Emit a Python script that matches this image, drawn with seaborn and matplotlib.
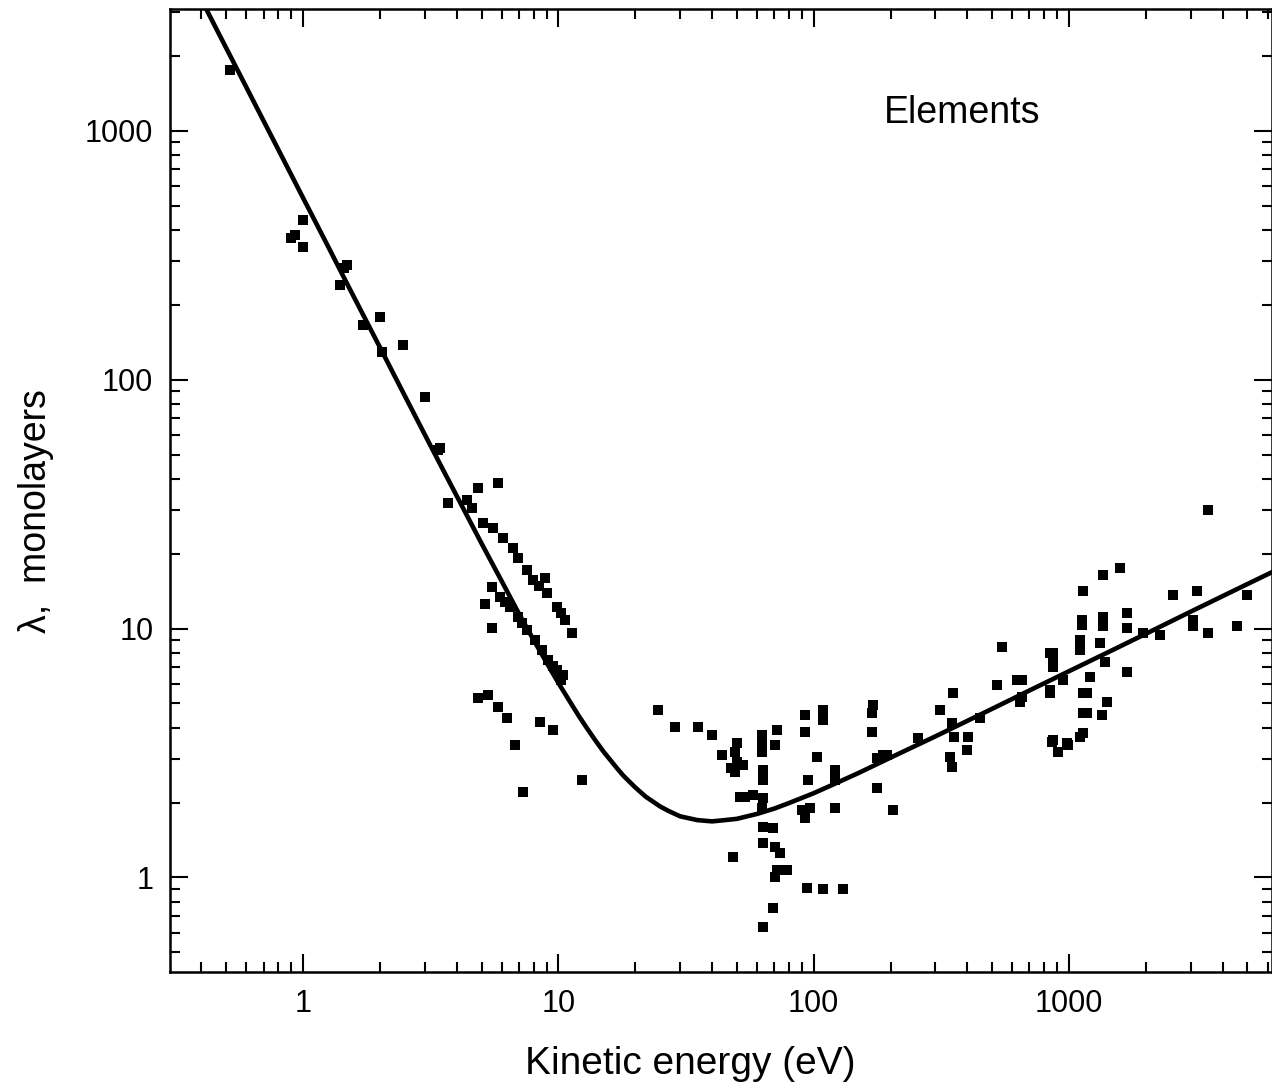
import numpy as np
import pandas as pd
import seaborn as sns
import matplotlib as mpl
mpl.use("Agg")
import matplotlib.pyplot as plt
from matplotlib.ticker import NullFormatter

# universal curve (energy in eV, lambda in monolayers)
curve_e = [0.4, 0.45, 0.5, 0.6, 0.7, 0.8, 1.0, 1.25, 1.5, 2, 2.5, 3, 3.5, 4, 5, 6, 7, 8,
           9, 10, 11, 12, 13, 14, 15, 17, 18, 20, 22, 25, 27, 30, 35, 40, 45, 50, 60,
           70, 80, 100, 120, 150, 200, 300, 500, 700, 1000, 1500, 2000, 3000, 5000, 6500]
curve_lam = [3363, 2657, 2152, 1495, 1098, 841, 538, 345, 239, 135, 86.4, 60.1, 44.3,
             34.1, 22.0, 15.5, 11.5, 9.0, 7.28, 6.05, 5.16, 4.47, 3.95, 3.54, 3.21,
             2.74, 2.56, 2.30, 2.11, 1.93, 1.85, 1.76, 1.70, 1.68, 1.70, 1.72, 1.80,
             1.89, 1.99, 2.18, 2.37, 2.63, 3.03, 3.69, 4.76, 5.64, 6.74, 8.25, 9.53,
             11.7, 15.1, 17.2]

# measured points, elements
pt_e = [0.518, 1.0, 0.90, 0.93, 1.0, 1.49, 1.45, 1.40, 2.0, 1.72, 2.04, 2.46, 3.0,
        3.38, 3.45, 3.70, 4.85, 4.4, 4.6, 5.8, 5.07,
        5.55, 6.07, 6.65, 6.95, 7.54, 7.96, 8.4, 8.87, 9.05, 9.88, 10.2, 10.6, 11.3,
        5.5, 5.91, 6.2, 6.46, 6.95, 7.2, 7.54, 8.1, 8.64, 9.1, 9.5, 9.88, 10.4, 10.2,
        5.16, 5.5, 4.85, 5.3, 5.8, 6.3, 6.76, 8.5, 9.5, 7.27, 12.4,
        24.6, 28.6, 35.2, 40, 43.8, 50.1, 49, 50.1, 47.6, 52.9, 49, 62.8, 62.8, 62.8,
        71.9, 70.5, 63.3, 63.3, 51.5, 54, 57.7, 63.3, 62.8, 63.3, 69.2, 63.3, 70.5,
        73.6, 48.3, 71.9, 78.6, 70.5, 94.2, 108.9, 130.4, 69.2, 63.3, 92.5, 92.5,
        108.9, 108.9, 103, 95.3, 121, 121, 90, 96.7, 92.5, 121, 171, 169, 169, 177,
        205, 177, 187, 193,
        257, 313, 352, 348, 356, 402, 398, 343, 348, 448, 523, 547, 626, 643, 843,
        867, 843, 867, 906, 991, 1104, 1104, 1210, 1180, 1180, 3506, 1585, 1362,
        1135, 2559, 3176, 1125, 1125, 1362, 1362, 1690, 1690, 1324, 1104, 1104, 1950,
        2275, 3064, 3064, 3506, 4550, 4990, 1384, 1690, 867, 867, 843, 948, 1135,
        1135, 1410, 1349, 1135, 855, 980, 906, 655, 655]
pt_lam = [1761, 439, 372, 380, 342, 290, 280, 240, 179, 166, 129, 138, 85,
          52, 53, 32, 36.8, 33, 30.5, 38.5, 26.6,
          25.4, 23.1, 21.1, 19.2, 17.2, 15.7, 14.8, 16.0, 13.9, 12.2, 11.5, 10.8, 9.6,
          14.7, 13.4, 12.8, 12.2, 11.1, 10.5, 9.9, 9.0, 8.2, 7.5, 7.1, 6.8, 6.5, 6.2,
          12.5, 10.1, 5.27, 5.4, 4.86, 4.38, 3.41, 4.22, 3.92, 2.21, 2.47,
          4.71, 4.03, 4.03, 3.74, 3.11, 3.47, 3.2, 2.92, 2.76, 2.83, 2.65, 3.74, 3.47, 3.2,
          3.92, 3.41, 2.70, 2.47, 2.10, 2.1, 2.14, 2.08, 1.90, 1.60, 1.58, 1.38, 1.33,
          1.25, 1.21, 1.07, 1.07, 1.0, 0.908, 0.90, 0.90, 0.755, 0.632, 4.5, 3.85,
          4.71, 4.3, 3.05, 2.47, 2.70, 2.47, 1.87, 1.90, 1.73, 1.90, 4.94, 4.59, 3.85, 2.29,
          1.87, 3.02, 3.11, 3.1,
          3.64, 4.71, 5.5, 4.18, 3.67, 3.67, 3.25, 3.05, 2.79, 4.38, 5.94, 8.44, 6.22, 5.08, 7.98,
          7.0, 5.5, 3.57, 3.2, 3.41, 3.67, 8.8, 6.4, 5.5, 4.6, 30.0, 17.5, 16.4,
          14.1, 13.7, 14.1, 10.8, 10.3, 11.1, 10.2, 11.6, 10.1, 8.77, 9.0, 8.2, 9.6,
          9.4, 10.8, 10.2, 9.6, 10.2, 13.7, 7.35, 6.7, 8.0, 7.35, 5.67, 6.2, 5.5,
          4.6, 5.08, 4.5, 3.8, 3.5, 3.47, 3.2, 6.2, 5.3]

sns.set_style("ticks")
plt.rcParams['font.family'] = ['Liberation Sans', 'DejaVu Sans']
plt.rcParams['text.color'] = 'black'
plt.rcParams['axes.labelcolor'] = 'black'

fig = plt.figure(figsize=(12.72, 10.91), dpi=100)
ax = fig.add_axes([0.1336, 0.1091, 0.8664, 0.8827])

curve = pd.DataFrame({'E': curve_e, 'lam': curve_lam})
pts = pd.DataFrame({'E': pt_e, 'lam': pt_lam})

sns.lineplot(data=curve, x='E', y='lam', ax=ax, color='black', lw=3.3, sort=False)
sns.scatterplot(data=pts, x='E', y='lam', ax=ax, color='black', marker='s',
                s=52, linewidth=0)

ax.set_xscale('log')
ax.set_yscale('log')
ax.set_xlim(0.301, 6240)
ax.set_ylim(0.417, 3090)

ax.set_xticks([1, 10, 100, 1000])
ax.set_xticklabels(['1', '10', '100', '1000'])
ax.set_yticks([1, 10, 100, 1000])
ax.set_yticklabels(['1', '10', '100', '1000'])
ax.xaxis.set_minor_formatter(NullFormatter())
ax.yaxis.set_minor_formatter(NullFormatter())

ax.tick_params(which='both', direction='in', top=True, right=True, width=1.5,
               labelsize=22, colors='black')
ax.tick_params(which='major', length=13, pad=12)
ax.tick_params(which='minor', length=7)
for sp in ax.spines.values():
    sp.set_linewidth(1.8)
    sp.set_color('black')

ax.set_xlabel('Kinetic energy (eV)', fontsize=28, labelpad=20)
ax.set_ylabel('λ,  monolayers', fontsize=27, labelpad=22)
ax.xaxis.label.set_x(0.472)
ax.yaxis.label.set_y(0.479)
ax.text(380, 1180, 'Elements', fontsize=27, ha='center', va='center')

plt.savefig('out.png', dpi=100)
